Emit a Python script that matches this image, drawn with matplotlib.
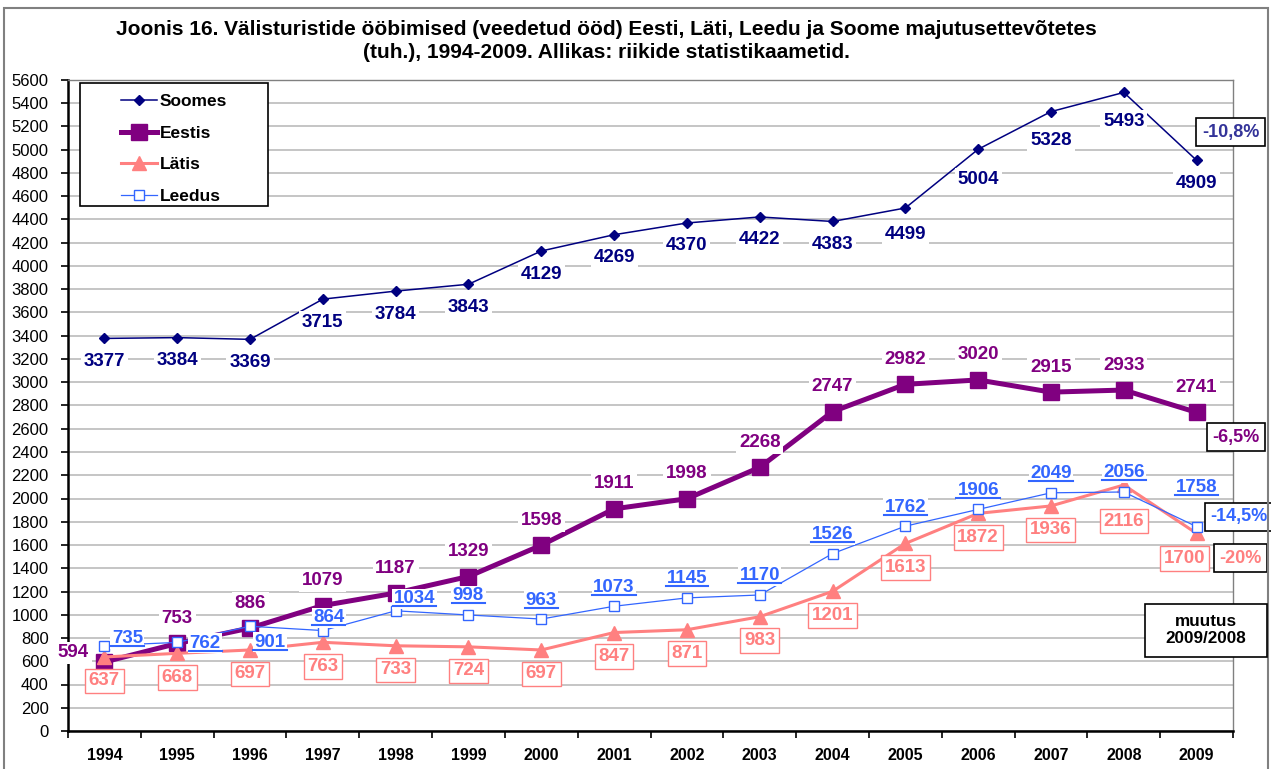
import matplotlib
matplotlib.use('Agg')
import matplotlib.pyplot as plt
from matplotlib.patches import Rectangle
from matplotlib.lines import Line2D

plt.rcParams['font.family'] = ['Liberation Sans', 'DejaVu Sans']

years = ['1994', '1995', '1996', '1997', '1998', '1999', '2000', '2001',
         '2002', '2003', '2004', '2005', '2006', '2007', '2008', '2009']
soomes = [3377, 3384, 3369, 3715, 3784, 3843, 4129, 4269, 4370, 4422, 4383, 4499, 5004, 5328, 5493, 4909]
eestis = [594, 753, 886, 1079, 1187, 1329, 1598, 1911, 1998, 2268, 2747, 2982, 3020, 2915, 2933, 2741]
latis = [637, 668, 697, 763, 733, 724, 697, 847, 871, 983, 1201, 1613, 1872, 1936, 2116, 1700]
leedus = [735, 762, 901, 864, 1034, 998, 963, 1073, 1145, 1170, 1526, 1762, 1906, 2049, 2056, 1758]
change_labels = ['-10,8%', '-6,5%', '-20%', '-14,5%']

c_soomes = '#000080'
c_eestis = '#800080'
c_latis = '#FF8080'
c_leedus = '#3366FF'

W, H = 1271, 769
fig = plt.figure(figsize=(W / 100, H / 100), dpi=100)
ax = fig.add_axes([68 / W, 1 - 731 / H, (1233 - 68) / W, (731 - 80) / H])

x = list(range(len(years)))

ax.plot(x, soomes, color=c_soomes, lw=1.1, marker='D', ms=5.5, label='Soomes', zorder=4)
ax.plot(x, eestis, color=c_eestis, lw=3.6, marker='s', ms=11, label='Eestis', zorder=3)
ax.plot(x, latis, color=c_latis, lw=2.2, marker='^', ms=10, label='Lätis', zorder=3)
ax.plot(x, leedus, color=c_leedus, lw=0.9, marker='s', ms=7.5, mfc='white', mec=c_leedus,
        mew=1.0, label='Leedus', zorder=3)

ax.set_xlim(-0.5, 15.5)
ax.set_ylim(0, 5600)
ax.set_yticks(range(0, 5601, 200))
ax.tick_params(axis='y', labelsize=12, direction='out', length=5, width=1.2, pad=9)
ax.set_xticks(x)
ax.set_xticklabels(years, fontweight='bold', fontsize=11.5)
ax.set_xticks([i - 0.5 for i in range(len(years) + 1)], minor=True)
ax.tick_params(axis='x', which='major', length=0, pad=12)
ax.tick_params(axis='x', which='minor', direction='out', length=5, width=1.2)
ax.grid(axis='y', color='#C0C0C0', lw=1.3)
ax.set_axisbelow(True)
for s in ['left', 'bottom']:
    ax.spines[s].set_color('black')
    ax.spines[s].set_linewidth(1.8)
for s in ['top', 'right']:
    ax.spines[s].set_color('#808080')
    ax.spines[s].set_linewidth(1.0)


def label(xi, yi, txt, color, dx, dy, box_edge='none', pad=0.15):
    return ax.annotate(txt, (xi, yi), xytext=(dx, dy), textcoords='offset pixels',
                       ha='center', va='center', fontsize=13.5, fontweight='bold', color=color,
                       bbox=dict(boxstyle='square,pad=%s' % pad, fc='white', ec=box_edge, lw=1.0),
                       zorder=6)


# Soomes: below the points
soomes_dy = {11: -27, 12: -30, 13: -29, 14: -29}
for i, v in enumerate(soomes):
    label(i, v, str(v), c_soomes, 0, soomes_dy.get(i, -23))

# Eestis: above the points, first one to the left
for i, v in enumerate(eestis):
    if i == 0:
        label(i, v, str(v), c_eestis, -31, 9)
    else:
        label(i, v, str(v), c_eestis, 0, 25)

# Latis: below, in boxes
latis_off = {14: (0, -36), 15: (-12, -25)}
for i, v in enumerate(latis):
    dx, dy = latis_off.get(i, (0, -24))
    label(i, v, str(v), c_latis, dx, dy, box_edge=c_latis, pad=0.2)

# Leedus: underlined, mostly above
leedus_off = {0: (23, 7), 1: (28, -1), 2: (20, -16), 3: (6, 13), 4: (19, 12),
              15: (0, 39)}
leedus_texts = []
for i, v in enumerate(leedus):
    dx, dy = leedus_off.get(i, (0, 19))
    leedus_texts.append(label(i, v, str(v), c_leedus, dx, dy, pad=0.08))

# change boxes for 2009/2008
last = len(years) - 1
change_specs = [(soomes, '#333399', (34, 28)), (eestis, c_eestis, (39, -25)),
                (latis, c_latis, (44, -25)), (leedus, c_leedus, (42, 10))]
for lab, (series, col, (dx, dy)) in zip(change_labels, change_specs):
    ax.annotate(lab, (last, series[last]), xytext=(dx, dy), textcoords='offset pixels',
                ha='center', va='center', fontsize=13, fontweight='bold', color=col,
                bbox=dict(boxstyle='square,pad=0.3', fc='white', ec='black', lw=1.2),
                zorder=7, annotation_clip=False)

# muutus box
fig.patches.append(Rectangle((1145 / W, 1 - 657 / H), 122 / W, 53 / H, transform=fig.transFigure,
                             fc='white', ec='black', lw=1.2, zorder=5))
fig.text(1206 / W, 1 - 630 / H, 'muutus\n2009/2008', ha='center', va='center',
         fontsize=12.3, fontweight='bold', linespacing=1.15, zorder=6)

# legend with a wide white frame behind it
ax.add_patch(Rectangle(((80 - 68) / 1165, (731 - 206) / 651), 188 / 1165, 123 / 651,
                       transform=ax.transAxes, fc='white', ec='black', lw=1.2, zorder=7))
leg = ax.legend(loc='upper left', bbox_to_anchor=((121 - 68) / 1165, (731 - 94) / 651),
                prop={'weight': 'bold', 'size': 12.5}, frameon=False,
                borderpad=0, labelspacing=0.95, handlelength=2.1,
                handletextpad=0.15, borderaxespad=0)
leg.set_zorder(8)

fig.text(606 / W, 1 - 41 / H,
         'Joonis 16. Välisturistide ööbimised (veedetud ööd) Eesti, Läti, Leedu ja Soome majutusettevõtetes\n'
         '(tuh.), 1994-2009. Allikas: riikide statistikaametid.',
         ha='center', va='center', fontsize=15, fontweight='bold', linespacing=1.25)

fig.patches.append(Rectangle((4 / W, -0.05), 1264 / W, 1.05 - 8 / H,
                             transform=fig.transFigure, fill=False, ec='#808080', lw=1.5))

# underline the Leedus labels
fig.canvas.draw()
for t in leedus_texts:
    bb = t.get_window_extent()
    yl = bb.y0 + 1
    fig.add_artist(Line2D([(bb.x0 - 1) / W, (bb.x1 + 1) / W], [yl / H, yl / H],
                          transform=fig.transFigure, color=c_leedus, lw=1.5, zorder=9))

fig.savefig('out.png', dpi=100)
